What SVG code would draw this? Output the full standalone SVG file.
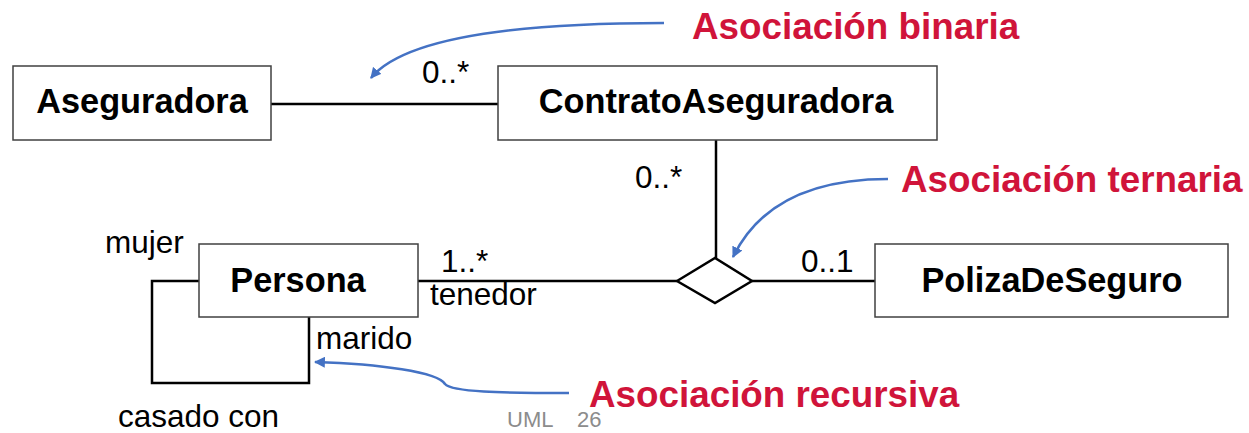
<svg xmlns="http://www.w3.org/2000/svg" width="1249" height="433" viewBox="0 0 1249 433">
<style>
  .box{fill:#fff;stroke:#404040;stroke-width:1.5}
  .name{font-family:"Liberation Sans",Arial,sans-serif;font-weight:bold;font-size:34.3px;fill:#000;text-anchor:middle}
  .lbl{font-family:"Liberation Sans",Arial,sans-serif;font-size:31.5px;fill:#000}
  .red{font-family:"Liberation Sans",Arial,sans-serif;font-weight:bold;font-size:36.8px;fill:#D0143A}
  .conn{fill:none;stroke:#000;stroke-width:2.5}
  .note{fill:none;stroke:#4472C4;stroke-width:2.5}
  .foot{font-family:"Liberation Sans",Arial,sans-serif;font-size:22px;fill:#8c8c8c}
</style>
<defs>
  <marker id="ah" viewBox="0 0 10 10" refX="9" refY="5" markerWidth="4.4" markerHeight="4.4" orient="auto" markerUnits="strokeWidth">
    <path d="M0,0 L10,5 L0,10 z" fill="#4472C4"/>
  </marker>
</defs>
<g id="connectors">
  <line class="conn" x1="271" y1="104" x2="498" y2="104"/>
  <line class="conn" x1="716" y1="140" x2="716" y2="258"/>
  <line class="conn" x1="418" y1="281" x2="677" y2="281"/>
  <line class="conn" x1="752" y1="281" x2="875" y2="281"/>
  <polygon class="conn" points="677,281 715,258 752,281 715,303" style="fill:#fff"/>
  <polyline class="conn" points="199,281 152,281 152,383 309,383 309,317"/>
</g>
<g id="Aseguradora">
  <rect class="box" x="13" y="66" width="258" height="74"/>
  <text class="name" x="142" y="113">Aseguradora</text>
</g>
<g id="ContratoAseguradora">
  <rect class="box" x="498" y="66" width="439" height="74"/>
  <text class="name" x="716" y="113">ContratoAseguradora</text>
</g>
<g id="Persona">
  <rect class="box" x="199" y="244" width="219" height="73"/>
  <text class="name" x="298" y="292">Persona</text>
</g>
<g id="PolizaDeSeguro">
  <rect class="box" x="875" y="244" width="353" height="73"/>
  <text class="name" x="1052" y="292">PolizaDeSeguro</text>
</g>
<g id="labels">
  <text class="lbl" x="422" y="83">0..*</text>
  <text class="lbl" x="635" y="188">0..*</text>
  <text class="lbl" x="801" y="272">0..1</text>
  <text class="lbl" x="441" y="272">1..*</text>
  <text class="lbl" x="430" y="305">tenedor</text>
  <text class="lbl" x="316" y="349">marido</text>
  <text class="lbl" x="105" y="253">mujer</text>
  <text class="lbl" x="118" y="427">casado con</text>
</g>
<g id="annotations">
  <path class="note" d="M664,23 Q416,23 371,78" marker-end="url(#ah)"/>
  <path class="note" d="M888,179 Q771,179 733,257" marker-end="url(#ah)"/>
  <path class="note" d="M569,393 C500,393 452,392 445,384 C438,372 380,364 315,362" marker-end="url(#ah)"/>
  <text class="red" x="692" y="39">Asociación binaria</text>
  <text class="red" x="901" y="192">Asociación ternaria</text>
  <text class="red" x="589" y="407">Asociación recursiva</text>
</g>
<g id="footer">
  <text class="foot" x="507" y="427">UML</text>
  <text class="foot" x="577" y="427">26</text>
</g>
</svg>
